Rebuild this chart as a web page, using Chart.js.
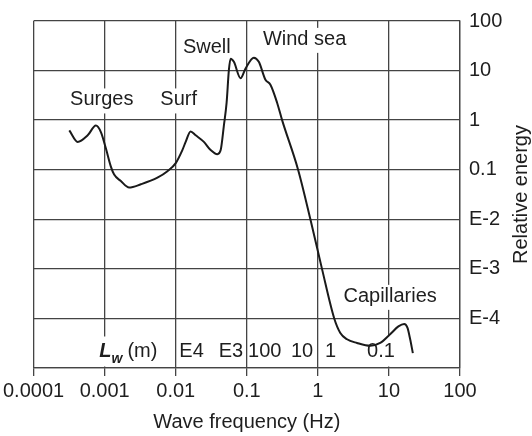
<!DOCTYPE html>
<html>
<head>
<meta charset="utf-8">
<script src="https://cdn.jsdelivr.net/npm/chart.js@4/dist/chart.umd.min.js"></script>
<style>
  html, body { margin: 0; padding: 0; background: #fff; }
</style>
</head>
<body>
<canvas id="chart" width="532" height="436"></canvas>
<script>
// wave spectrum
const freqHz = [3.18e-4, 4.17e-4, 5.77e-4, 7.53e-4, 8.85e-4, 1.04e-3, 1.22e-3, 1.36e-3, 1.69e-3, 2.21e-3,
    3.23e-3, 5.53e-3, 7.64e-3, 0.01, 0.0124, 0.0138, 0.0162, 0.0191, 0.0249, 0.031,
    0.0385, 0.0429, 0.0476, 0.052, 0.056, 0.0592, 0.0658, 0.0817, 0.096, 0.1256,
    0.1476, 0.183, 0.215, 0.267, 0.314, 0.527, 0.785, 1.143, 1.70, 2.07,
    2.57, 3.55, 5.46, 7.53, 10.4, 13.6, 16.4, 18.2, 19.9, 21.7];
const energy = [0.621, 0.364, 0.494, 0.778, 0.574, 0.27, 0.117, 0.080, 0.059, 0.0437,
    0.0508, 0.0689, 0.0929, 0.136, 0.249, 0.364, 0.593, 0.494, 0.364, 0.249,
    0.205, 0.249, 0.778, 2.25, 10.3, 17.4, 15.0, 7.01, 11.0, 18.2,
    15.0, 6.52, 5.19, 2.25, 1.0, 0.1, 0.01, 1e-3, 1e-4, 5.1e-5,
    3.8e-5, 3.2e-5, 2.8e-5, 3.2e-5, 4.8e-5, 6.9e-5, 7.7e-5, 6.5e-5, 3.8e-5, 2.0e-5];

const xTickValues = [1e-4, 1e-3, 1e-2, 0.1, 1, 10, 100];
const xTickLabels = ['0.0001', '0.001', '0.01', '0.1', '1', '10', '100'];
const yTickValues = [1e-5, 1e-4, 1e-3, 1e-2, 0.1, 1, 10, 100];
const yTickLabels = ['', 'E-4', 'E-3', 'E-2', '0.1', '1', '10', '100'];

const bandNames = ['Surges', 'Surf', 'Swell', 'Wind sea', 'Capillaries'];
const bandAt = [[9.1e-4, 1.98], [0.011, 1.98], [0.0274, 22.6], [0.65, 33], [10.4, 2.16e-4]];
const lengthNames = ['E4', 'E3', '100', '10', '1', '0.1'];
const lengthAtHz = [0.0167, 0.0597, 0.179, 0.6, 1.51, 7.73];

const FAMILY = '"Liberation Sans", Arial, Helvetica, sans-serif';
const INK = '#1e1e1e';
const GRID = '#444';

const points = freqHz.map((f, i) => ({ x: f, y: energy[i] }));

function whiteBox(ctx, x, w, top, bottom) {
    ctx.fillStyle = '#fff';
    ctx.fillRect(x - 2, top, w + 4, bottom - top);
}

const textPlugin = {
    id: 'textLabels',
    beforeDatasetsDraw(chart) {
        const { ctx, chartArea, scales: { x, y } } = chart;
        ctx.save();
        ctx.textBaseline = 'alphabetic';
        ctx.font = '20px ' + FAMILY;

        // band names, white behind so the grid is broken
        bandNames.forEach((name, i) => {
            const cx = x.getPixelForValue(bandAt[i][0]);
            const by = y.getPixelForValue(bandAt[i][1]);
            const w = ctx.measureText(name).width;
            if (name !== 'Swell') whiteBox(ctx, cx - w / 2, w, by - 17, by + 8);
            ctx.fillStyle = INK;
            ctx.textAlign = 'center';
            ctx.fillText(name, cx, by);
        });

        // wavelength row along the bottom
        const base = chartArea.bottom - 11.5;
        lengthNames.forEach((name, i) => {
            const cx = x.getPixelForValue(lengthAtHz[i]);
            const w = ctx.measureText(name).width;
            if (name === '0.1') whiteBox(ctx, cx - w / 2, w, base - 20, chartArea.bottom - 1.5);
            ctx.fillStyle = INK;
            ctx.textAlign = 'center';
            ctx.fillText(name, cx, base);
        });

        // L_w (m)
        const lx = x.getPixelForValue(8.4e-4);
        ctx.textAlign = 'left';
        ctx.font = 'bold italic 20px ' + FAMILY;
        const wL = ctx.measureText('L').width;
        ctx.font = 'bold italic 14px ' + FAMILY;
        const wW = ctx.measureText('w').width;
        ctx.font = '20px ' + FAMILY;
        const wM = ctx.measureText('(m)').width;
        whiteBox(ctx, lx, wL + wW + 5 + wM, base - 20, chartArea.bottom - 1.5);
        ctx.fillStyle = INK;
        ctx.font = 'bold italic 20px ' + FAMILY;
        ctx.fillText('L', lx, base);
        ctx.font = 'bold italic 14px ' + FAMILY;
        ctx.fillText('w', lx + wL, base + 6.5);
        ctx.font = '20px ' + FAMILY;
        ctx.fillText('(m)', lx + wL + wW + 5, base);

        // axis titles
        ctx.textAlign = 'center';
        ctx.fillText('Wave frequency (Hz)', (chartArea.left + chartArea.right) / 2, 427.5);
        ctx.translate(527, (chartArea.top + chartArea.bottom) / 2);
        ctx.rotate(-Math.PI / 2);
        ctx.fillText('Relative energy', 0, 0);
        ctx.restore();
    }
};

new Chart(document.getElementById('chart'), {
    type: 'line',
    data: {
        datasets: [{
            data: points,
            borderColor: '#1a1a1a',
            borderWidth: 2,
            pointRadius: 0,
            cubicInterpolationMode: 'monotone',
            fill: false
        }]
    },
    options: {
        responsive: false,
        animation: false,
        layout: { padding: { left: 32, top: 13, right: 0, bottom: 0 } },
        plugins: { legend: { display: false }, tooltip: { enabled: false } },
        scales: {
            x: {
                type: 'logarithmic',
                min: 1e-4,
                max: 100,
                afterBuildTicks: s => { s.ticks = xTickValues.map(v => ({ value: v })); },
                afterFit: s => { s.height = 68; },
                ticks: {
                    callback: (v, i) => xTickLabels[i],
                    color: INK,
                    font: { size: 20, family: FAMILY },
                    padding: 3,
                    autoSkip: false,
                    maxRotation: 0
                },
                grid: { color: GRID, lineWidth: 1.3, tickLength: 8, tickColor: GRID },
                border: { color: GRID, width: 1.3 }
            },
            y: {
                type: 'logarithmic',
                position: 'right',
                min: 1e-5,
                max: 100,
                afterBuildTicks: s => { s.ticks = yTickValues.map(v => ({ value: v })); },
                afterFit: s => { s.width = 72; },
                ticks: {
                    callback: (v, i) => yTickLabels[i],
                    color: INK,
                    font: { size: 20, family: FAMILY },
                    padding: 9,
                    autoSkip: false
                },
                grid: { color: GRID, lineWidth: 1.3, drawTicks: false },
                border: { color: GRID, width: 1.3 }
            }
        }
    },
    plugins: [textPlugin]
});
</script>
</body>
</html>
